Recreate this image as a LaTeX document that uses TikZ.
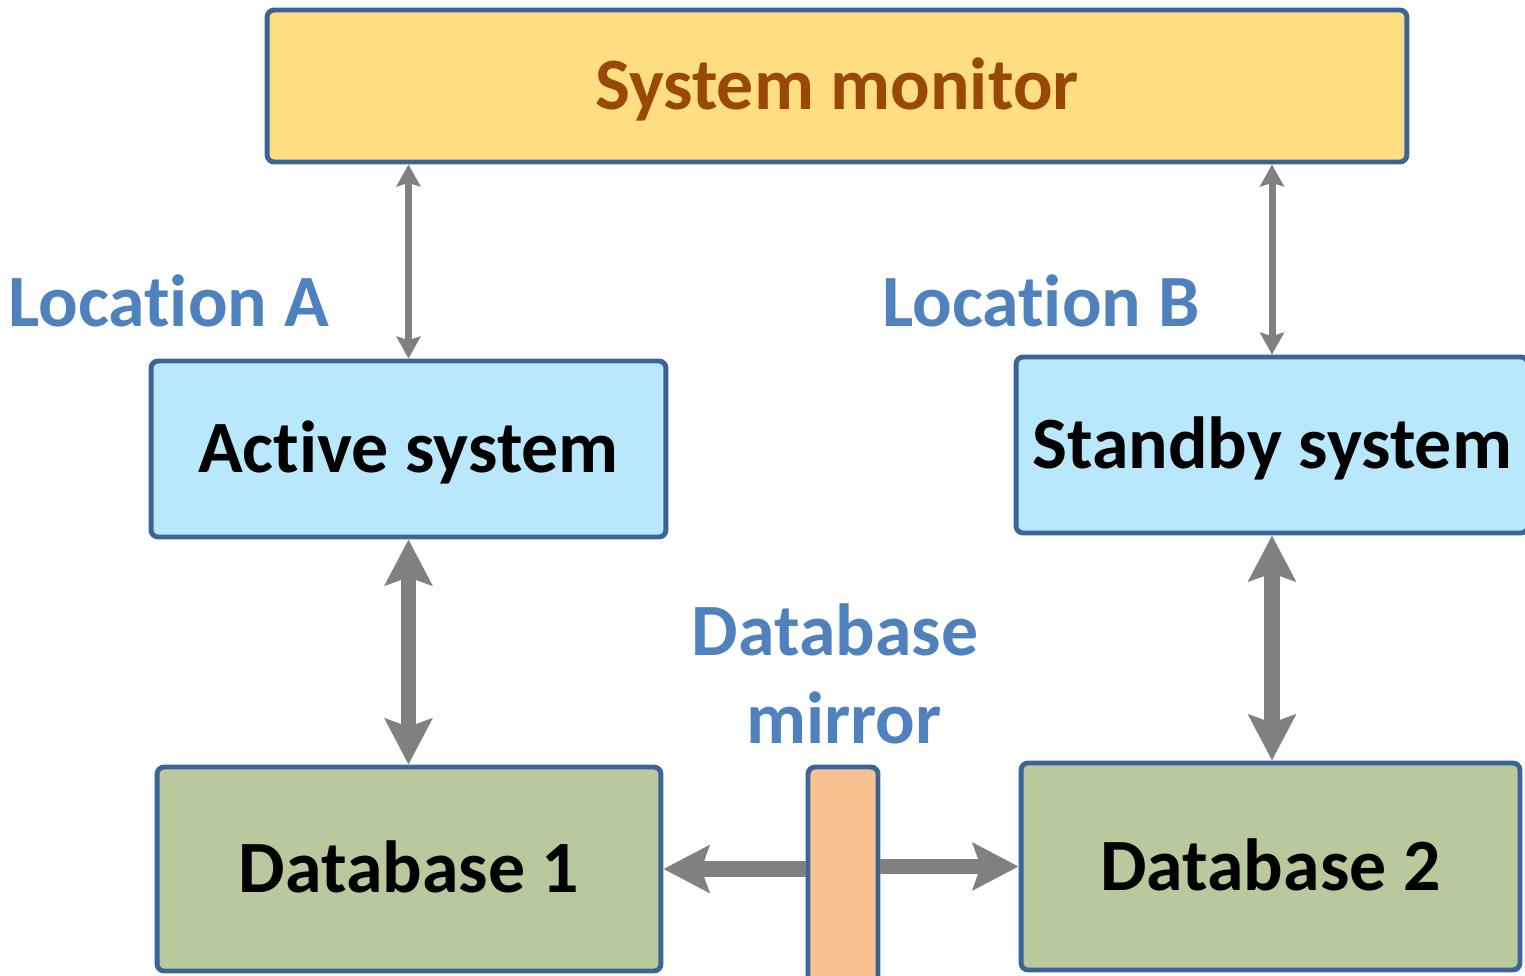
\documentclass[tikz,border=0pt]{standalone}
\usepackage{fontspec}
\setmainfont{Carlito}[RawFeature={-liga;-clig;-calt;-dlig}]
\usetikzlibrary{arrows.meta,calc}
\definecolor{boxline}{HTML}{3A6596}
\definecolor{monitorfill}{HTML}{FEDE80}
\definecolor{monitortext}{HTML}{984807}
\definecolor{sysfill}{HTML}{B9E8FD}
\definecolor{dbfill}{HTML}{BAC89E}
\definecolor{mirrorfill}{HTML}{F8C192}
\definecolor{linkgray}{HTML}{808080}
\definecolor{labelblue}{HTML}{4F81BD}
\tikzset{box/.style={draw=boxline, line width=2.8pt, rounded corners=4pt, inner sep=0pt,
text height=27pt, text depth=0pt, font=\bfseries\fontsize{42}{50}\selectfont},
place label/.style={text=labelblue, inner sep=0pt, font=\bfseries\fontsize{42}{50}\selectfont},
thin link/.style={draw=linkgray, line width=4pt, >={Stealth[length=12.5pt,width=13.6pt,inset=2pt]}},
thick link/.style={draw=linkgray, line width=9pt, >={Stealth[length=26pt,width=26.6pt,inset=4.5pt]}}}

\begin{document}
\begin{tikzpicture}[x=0.02cm, y=-0.02cm]
        \useasboundingbox (0,0) rectangle (1525,975);
        \clip (0,0) rectangle (1525,975);

        \node[box, fill=monitorfill, text=monitortext, minimum width=22.8cm, minimum height=3.04cm] (monitor) at (837, 86) {System monitor};
        \node[box, fill=sysfill, minimum width=10.3cm, minimum height=3.52cm] (active) at (408.5, 449) {Act\kern0pt ive system};
        \node[box, fill=sysfill, minimum width=10.24cm, minimum height=3.52cm] (standby) at (1272, 445) {Standby system};
        \node[box, fill=dbfill, minimum width=10.08cm, minimum height=4.08cm] (db1) at (409, 869) {Database 1};
        \node[box, fill=dbfill, minimum width=9.98cm, minimum height=4.14cm] (db2) at (1270.5, 866.5) {Database 2};
        \node[box, fill=mirrorfill, minimum width=1.4cm, minimum height=4.4cm] (mirror) at (843, 877) {};

        \node[place label, anchor=base west] (locA) at (8, 326) {Locat\kern0pt ion A};
        \node[place label, anchor=base west] (locB) at (882, 326) {Locat\kern0pt ion B};
        \node[place label, anchor=base] (mirrortop) at (835, 655) {Database};
        \node[place label, anchor=base] (mirrorbottom) at (844, 743) {mirror};

        \draw[thin link, <->] (active.north |- monitor.south) -- (active.north);
        \draw[thin link, <->] (standby.north |- monitor.south) -- (standby.north);
        \draw[thick link, <->] (active.south) -- (active.south |- db1.north);
        \draw[thick link, <->] (standby.south) -- (standby.south |- db2.north);
        \draw[thick link, ->] (mirror.west |- db1.east) -- (db1.east);
        \draw[thick link, ->] (mirror.east |- db2.west) -- (db2.west);
    \end{tikzpicture}
\end{document}
